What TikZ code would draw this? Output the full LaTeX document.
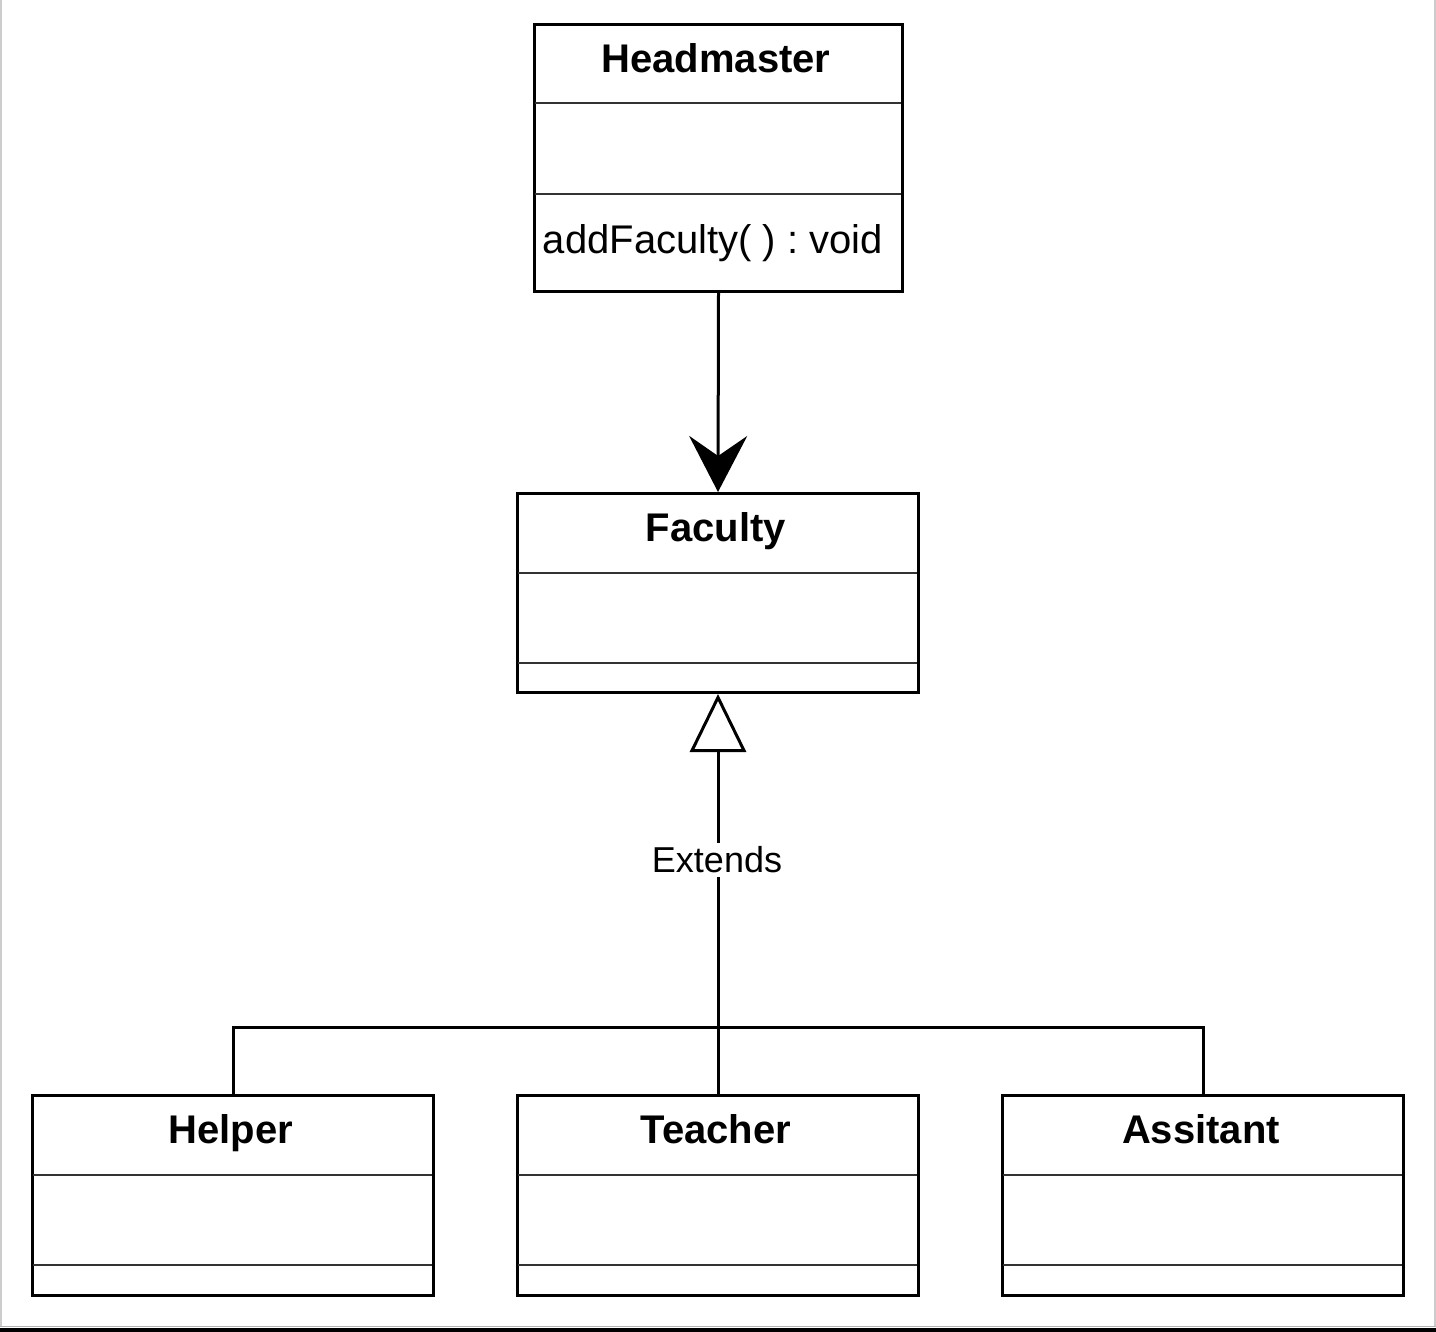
\documentclass[tikz,border=0pt]{standalone}
\usepackage{fontspec}
\setmainfont{Liberation Sans}
\usetikzlibrary{arrows.meta,calc}
\begin{document}
\frenchspacing
\begin{tikzpicture}[x=0.5pt,y=-0.5pt,
  cls/.style={draw=black, line width=1.5pt, fill=white, inner sep=0pt, anchor=north west},
  ttl/.style={font=\bfseries\fontsize{20}{24}\selectfont, anchor=base, inner sep=0pt},
  txt/.style={font=\fontsize{20}{24}\selectfont, anchor=base, inner sep=0pt},
  lbl/.style={font=\fontsize{18}{22}\selectfont, fill=white, inner sep=2pt},
  divider/.style={draw=black!80, line width=1.3pt},
  conn/.style={line width=1.5pt}
]
\useasboundingbox (0,0) rectangle (1436,1332);
% page frame
\draw[black!20, line width=1pt] (0.5,0) -- (0.5,1327);
\draw[black!20, line width=1pt] (1435,0) -- (1435,1327);
\draw[black!30, line width=0.5pt] (0,1326.5) -- (1436,1326.5);
\fill[black] (0,1328) rectangle (1436,1332);

% classes
\node[cls, minimum width=184pt, minimum height=133.5pt] (hm) at (533,23) {};
\node[cls, minimum width=200.5pt, minimum height=99.5pt] (fac) at (516,492) {};
\node[cls, minimum width=200.5pt, minimum height=100pt] (helper) at (31,1094) {};
\node[cls, minimum width=200.5pt, minimum height=100pt] (teacher) at (516,1094) {};
\node[cls, minimum width=200.5pt, minimum height=100pt] (assitant) at (1001,1094) {};

% dividers
\draw[divider] ($(hm.north west)+(2,80)$) -- ($(hm.north east)+(-3,80)$);
\draw[divider] ($(hm.north west)+(2,171)$) -- ($(hm.north east)+(-3,171)$);
\foreach \n in {fac,helper,teacher,assitant}{
  \draw[divider] ($(\n.north west)+(2,81)$) -- ($(\n.north east)+(-3,81)$);
  \draw[divider] ($(\n.north west)+(2,171)$) -- ($(\n.north east)+(-3,171)$);
}

% texts
\node[ttl] (hmt) at (716,73) {Headmaster};
\node[txt] (hmm) at (713,254) {addFaculty( ) : void};
\node[ttl] (fact) at (716,541) {Faculty};
\node[ttl] (helpert) at (231,1143) {Helper};
\node[ttl] (teachert) at (716,1143) {Teacher};
\node[ttl] (assitantt) at (1201,1143) {Assitant};

% association
\draw[conn, -{Stealth[length=28pt, width=29pt, inset=10pt]}] (hm.south) -- (fac.north);

% generalization
\coordinate (jn) at (717,1027);
\draw[conn, {Triangle[open, length=29pt, width=28pt, fill=white]}-] (fac.south) -- (teacher.north);
\draw[conn] (helper.north) |- (jn) -| (assitant.north);
\node[lbl] (ext) at (717,860) {Extends};
\end{tikzpicture}
\end{document}
